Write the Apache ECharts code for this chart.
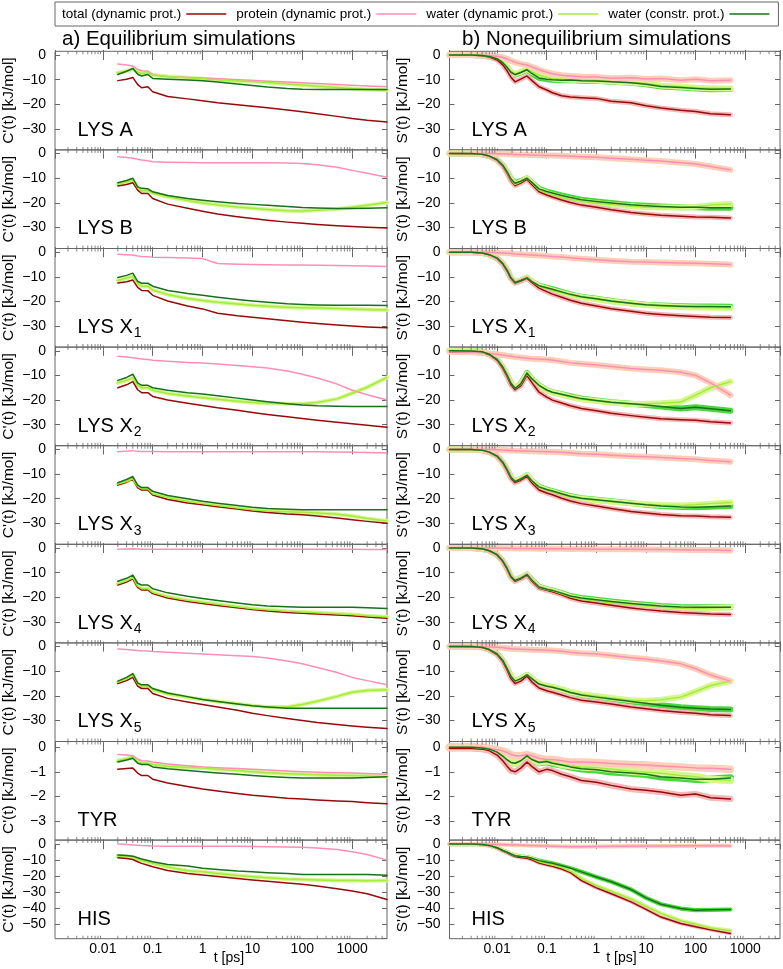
<!DOCTYPE html>
<html><head><meta charset="utf-8">
<script src="https://cdn.jsdelivr.net/npm/echarts@6/dist/echarts.min.js"></script>
<style>html,body{margin:0;padding:0;background:#fff}#c{width:783px;height:969px}</style>
</head><body><div id="c"></div>
<script>
const FONT = '"Liberation Sans", Arial, Helvetica, sans-serif';
const legendNames = ['total (dynamic prot.)','protein (dynamic prot.)','water (dynamic prot.)','water (constr. prot.)'];
const xTickLabels = ['0.01','0.1','1','10','100','1000'];
const panelLabels = ['LYS A','LYS B','LYS X','LYS X','LYS X','LYS X','LYS X','TYR','HIS'];
const panelSubs = ['','','1','2','3','4','5','',''];
const yMinRows = [-38.5,-38.5,-38.5,-38.5,-38.5,-38.5,-38.5,-3.77,-59];
const yMaxRows = [1.5,1.5,1.5,1.5,1.5,1.5,1.5,0.23,2.5];

// equilibrium time grid (ps) and nonequilibrium time grid (ps)
const eqTime = [0.02,0.03,0.04,0.05,0.06,0.08,0.1,0.2,0.5,1,2,5,10,20,50,100,200,500,1000,2000,5000];
const neqTime = [0.0011,0.003,0.005,0.007,0.01,0.013,0.016,0.019,0.023,0.03,0.04,0.05,0.07,0.1,0.13,0.2,0.3,0.5,1,2,5,10,20,50,100,200,500];

// ---------- a) Equilibrium: C'(t) ----------
const eqTotalLysA   = [-10.4,-9.8,-9.1,-12.0,-13.3,-12.9,-14.9,-16.8,-17.8,-18.6,-19.4,-20.2,-20.8,-21.4,-22.3,-23.0,-23.8,-24.9,-25.8,-26.5,-27.2];
const eqProteinLysA = [-3.7,-4.1,-4.5,-5.8,-6.4,-6.5,-8.0,-8.8,-9.1,-9.3,-9.6,-10.0,-10.3,-10.6,-11.0,-11.3,-11.6,-12.0,-12.3,-12.6,-12.9];
const eqWaterDynLysA= [-7.2,-6.5,-5.8,-6.9,-7.4,-7.3,-8.1,-8.7,-9.2,-9.6,-10.0,-10.5,-10.8,-11.2,-11.8,-12.2,-12.7,-13.2,-13.6,-14.0,-14.3];
const eqWaterConLysA= [-7.9,-6.6,-5.4,-7.8,-8.5,-7.9,-9.5,-9.8,-10.1,-10.4,-11.0,-11.8,-12.4,-13.0,-13.6,-13.9,-14.0,-14.0,-14.0,-14.0,-14.0];

const eqTotalLysB   = [-13.1,-12.5,-11.8,-14.8,-16.2,-16.2,-18.2,-20.5,-22.2,-23.4,-24.5,-25.6,-26.3,-27.0,-27.8,-28.3,-28.8,-29.3,-29.6,-29.9,-30.2];
const eqProteinLysB = [-1.3,-1.6,-1.9,-2.3,-2.6,-2.9,-3.3,-3.5,-3.6,-3.7,-3.7,-3.7,-3.7,-3.7,-3.8,-4.0,-4.5,-5.5,-6.8,-8.0,-9.6];
const eqWaterDynLysB= [-12.3,-11.5,-10.7,-13.8,-15.2,-15.0,-16.0,-17.5,-19.0,-20.0,-20.8,-21.7,-22.2,-22.7,-23.2,-23.3,-23.0,-22.5,-21.8,-21.0,-19.8];
const eqWaterConLysB= [-11.8,-10.9,-10.0,-13.5,-14.1,-14.3,-15.5,-17.0,-18.2,-18.9,-19.5,-20.2,-20.6,-21.0,-21.5,-21.9,-22.1,-22.3,-22.3,-22.2,-22.0];

const eqTotalLysX1   = [-12.5,-12.0,-11.3,-14.3,-15.5,-15.6,-17.5,-19.8,-21.8,-23.0,-24.8,-25.8,-26.4,-27.0,-27.8,-28.4,-28.9,-29.5,-29.9,-30.3,-30.7];
const eqProteinLysX1 = [-0.8,-1.0,-1.1,-1.5,-1.7,-1.8,-2.0,-2.2,-2.4,-2.6,-4.6,-4.9,-5.0,-5.1,-5.2,-5.2,-5.3,-5.4,-5.5,-5.6,-5.8];
const eqWaterDynLysX1= [-11.5,-10.5,-9.8,-12.8,-13.8,-13.8,-15.3,-17.2,-18.8,-19.6,-20.3,-21.0,-21.5,-21.9,-22.3,-22.5,-22.6,-22.8,-23.0,-23.2,-23.4];
const eqWaterConLysX1= [-10.3,-9.4,-8.5,-11.8,-12.6,-12.6,-13.8,-15.5,-16.8,-17.5,-18.3,-19.2,-19.8,-20.3,-20.9,-21.2,-21.4,-21.5,-21.5,-21.5,-21.6];

const eqTotalLysX2   = [-15.0,-13.8,-12.5,-15.8,-17.0,-17.0,-18.5,-20.0,-21.3,-22.2,-23.1,-24.1,-25.0,-25.8,-26.8,-27.5,-28.2,-29.0,-29.6,-30.2,-31.0];
const eqProteinLysX2 = [-2.2,-2.5,-2.8,-3.1,-3.3,-3.5,-3.8,-4.2,-4.7,-5.0,-5.4,-6.0,-6.5,-7.0,-8.2,-9.5,-11.0,-13.5,-16.0,-17.8,-20.0];
const eqWaterDynLysX2= [-13.0,-12.0,-11.0,-14.0,-15.0,-15.0,-16.0,-17.3,-18.3,-19.0,-19.7,-20.5,-21.0,-21.3,-21.5,-21.5,-21.0,-19.5,-17.2,-14.8,-10.8];
const eqWaterConLysX2= [-12.0,-10.8,-9.5,-13.0,-14.0,-14.0,-15.0,-16.0,-17.0,-17.5,-18.2,-19.2,-20.0,-20.7,-21.5,-22.0,-22.3,-22.5,-22.6,-22.6,-22.6];

const eqTotalLysX3   = [-14.5,-13.3,-12.0,-15.5,-16.5,-16.5,-18.5,-20.3,-21.7,-22.5,-23.3,-24.2,-25.0,-25.6,-26.2,-26.5,-27.0,-27.8,-28.5,-29.2,-30.0];
const eqProteinLysX3 = [-1.0,-0.7,-0.5,-0.8,-0.9,-0.9,-0.9,-1.0,-1.0,-1.0,-1.0,-1.0,-1.0,-1.0,-1.0,-1.0,-1.0,-1.1,-1.2,-1.3,-1.5];
const eqWaterDynLysX3= [-14.0,-13.0,-12.0,-15.0,-16.0,-16.0,-18.0,-19.5,-21.0,-22.0,-22.8,-23.8,-24.5,-25.0,-25.3,-25.5,-25.8,-26.3,-27.0,-28.0,-29.0];
const eqWaterConLysX3= [-13.5,-12.2,-11.0,-14.5,-15.5,-15.5,-17.0,-18.7,-20.0,-21.0,-21.8,-22.8,-23.5,-24.0,-24.3,-24.5,-24.5,-24.5,-24.5,-24.5,-24.5];

const eqTotalLysX4   = [-15.0,-13.8,-12.5,-16.0,-17.0,-17.0,-18.5,-20.3,-21.7,-22.5,-23.3,-24.2,-25.0,-25.6,-26.2,-26.5,-26.8,-27.2,-27.5,-28.0,-28.5];
const eqProteinLysX4 = [-0.5,-0.4,-0.3,-0.4,-0.5,-0.5,-0.5,-0.5,-0.5,-0.5,-0.5,-0.5,-0.5,-0.5,-0.5,-0.5,-0.5,-0.5,-0.5,-0.6,-0.6];
const eqWaterDynLysX4= [-14.5,-13.3,-12.0,-15.5,-16.5,-16.5,-18.0,-19.8,-21.2,-22.0,-22.8,-23.8,-24.5,-25.1,-25.7,-26.0,-26.3,-26.7,-27.0,-27.5,-28.0];
const eqWaterConLysX4= [-13.5,-12.3,-11.0,-14.3,-15.0,-15.0,-16.5,-18.2,-19.6,-20.5,-21.3,-22.3,-23.0,-23.5,-23.8,-24.0,-24.0,-24.0,-24.0,-24.2,-24.5];

const eqTotalLysX5   = [-15.0,-13.8,-12.5,-16.0,-17.0,-17.0,-19.0,-21.0,-22.5,-23.5,-24.5,-25.8,-27.0,-28.0,-29.2,-30.0,-30.8,-31.6,-32.2,-32.7,-33.2];
const eqProteinLysX5 = [-1.0,-1.2,-1.4,-1.6,-1.7,-1.8,-2.0,-2.3,-2.7,-3.0,-3.3,-3.7,-4.0,-4.6,-5.8,-7.0,-8.5,-10.5,-12.5,-13.8,-15.5];
const eqWaterDynLysX5= [-14.5,-13.0,-11.5,-15.0,-16.0,-16.0,-17.5,-19.2,-20.6,-21.5,-22.3,-23.2,-24.0,-24.5,-24.5,-23.5,-22.2,-20.2,-18.5,-17.8,-17.5];
const eqWaterConLysX5= [-14.0,-12.5,-11.0,-14.7,-15.5,-15.5,-17.0,-18.8,-20.3,-21.5,-22.3,-23.3,-24.0,-24.5,-25.0,-25.0,-25.0,-25.0,-25.0,-25.0,-25.0];

const eqTotalTyr   = [-0.9,-0.87,-0.85,-1.05,-1.15,-1.15,-1.3,-1.45,-1.6,-1.7,-1.78,-1.88,-1.95,-2.0,-2.07,-2.1,-2.14,-2.18,-2.2,-2.25,-2.3];
const eqProteinTyr = [-0.3,-0.32,-0.35,-0.48,-0.55,-0.56,-0.6,-0.68,-0.75,-0.8,-0.83,-0.87,-0.9,-0.93,-0.97,-1.0,-1.02,-1.04,-1.05,-1.07,-1.1];
const eqWaterDynTyr= [-0.55,-0.47,-0.4,-0.58,-0.65,-0.65,-0.7,-0.77,-0.82,-0.85,-0.9,-0.95,-1.0,-1.04,-1.08,-1.1,-1.12,-1.14,-1.15,-1.17,-1.2];
const eqWaterConTyr= [-0.6,-0.52,-0.45,-0.65,-0.7,-0.7,-0.8,-0.88,-0.95,-1.0,-1.05,-1.1,-1.15,-1.19,-1.23,-1.25,-1.25,-1.25,-1.25,-1.23,-1.2];

const eqTotalHis   = [-8.5,-9.0,-9.6,-11.0,-12.0,-13.2,-14.1,-16.5,-18.3,-19.3,-20.2,-21.5,-22.4,-23.2,-24.3,-25.1,-26.2,-27.8,-29.3,-31.0,-34.5];
const eqProteinHis = [0.0,-0.3,-0.5,-0.7,-0.9,-1.0,-1.2,-1.3,-1.3,-1.3,-1.3,-1.4,-1.5,-1.6,-1.8,-2.0,-2.4,-3.4,-4.7,-6.5,-10.0];
const eqWaterDynHis= [-7.4,-7.7,-8.0,-9.3,-10.2,-11.2,-12.0,-14.3,-16.6,-17.3,-18.3,-19.6,-20.4,-21.0,-21.7,-22.0,-22.4,-22.7,-22.7,-22.8,-22.7];
const eqWaterConHis= [-6.8,-7.1,-7.5,-8.5,-9.3,-10.2,-11.0,-12.7,-13.7,-15.0,-15.8,-16.8,-17.3,-17.8,-18.4,-18.9,-19.0,-19.0,-18.9,-19.0,-19.5];

// ---------- b) Nonequilibrium: S'(t) ----------
const neqTotalLysA   = [0,-0.05,-0.3,-0.8,-2.0,-4.0,-6.5,-9.0,-10.9,-9.8,-8.5,-10.3,-12.9,-14.2,-15.3,-16.5,-17.0,-17.3,-17.6,-18.8,-19.4,-20.6,-21.5,-22.4,-22.9,-23.8,-24.2];
const neqProteinLysA = [0,0,-0.1,-0.2,-0.5,-1.0,-1.6,-2.3,-3.0,-3.6,-4.1,-4.8,-6.0,-7.0,-7.6,-8.2,-8.5,-8.8,-8.9,-9.4,-9.2,-9.7,-9.5,-10.2,-9.8,-10.4,-10.2];
const neqWaterDynLysA= [0,0,-0.2,-0.6,-1.5,-3.0,-4.9,-6.7,-7.7,-6.8,-5.7,-6.8,-8.2,-9.0,-9.5,-9.8,-10.0,-10.1,-10.3,-10.8,-11.2,-11.6,-12.4,-12.9,-13.3,-13.5,-13.6];
const neqWaterConLysA= [0,0,-0.2,-0.6,-1.5,-3.1,-5.1,-7.0,-8.0,-7.1,-6.0,-7.5,-9.3,-9.8,-10.0,-10.2,-10.1,-10.4,-10.5,-10.9,-11.3,-11.9,-12.8,-13.2,-13.6,-13.9,-13.8];

const neqTotalLysB   = [0,-0.05,-0.3,-1.0,-2.6,-5.0,-8.0,-11.0,-13.0,-12.0,-10.5,-12.5,-15.5,-16.8,-17.6,-18.8,-19.8,-20.9,-21.8,-22.8,-23.9,-24.5,-25.0,-25.4,-25.7,-25.8,-26.1];
const neqProteinLysB = [0,0,0,0,-0.1,-0.1,-0.2,-0.3,-0.4,-0.5,-0.5,-0.6,-0.7,-0.8,-0.8,-0.9,-1.1,-1.3,-1.5,-1.9,-2.3,-2.7,-3.0,-3.7,-4.2,-5.2,-6.6];
const neqWaterDynLysB= [0,0,-0.3,-1.0,-2.5,-4.8,-7.7,-10.6,-12.5,-11.5,-10.0,-11.9,-14.8,-16.0,-16.7,-17.8,-18.6,-19.4,-20.1,-20.7,-21.4,-21.8,-21.9,-21.9,-21.6,-20.9,-20.4];
const neqWaterConLysB= [0,0,-0.3,-1.0,-2.5,-4.7,-7.5,-10.3,-12.0,-11.2,-10.0,-11.7,-14.3,-15.4,-16.0,-17.0,-17.8,-18.7,-19.4,-20.0,-20.8,-21.2,-21.5,-21.8,-21.8,-22.0,-22.0];

const neqTotalLysX1   = [0,-0.05,-0.3,-1.0,-2.5,-4.8,-7.7,-10.7,-12.5,-11.7,-10.5,-12.3,-14.6,-16.0,-17.0,-18.3,-19.5,-20.7,-21.8,-22.9,-24.0,-24.8,-25.3,-25.8,-26.1,-26.4,-26.5];
const neqProteinLysX1 = [0,0,0,-0.1,-0.2,-0.3,-0.4,-0.5,-0.7,-0.8,-1.0,-1.1,-1.3,-1.5,-1.7,-1.9,-2.3,-2.7,-3.1,-3.5,-3.9,-4.0,-4.2,-4.4,-4.5,-4.7,-5.0];
const neqWaterDynLysX1= [0,0,-0.3,-1.0,-2.4,-4.6,-7.4,-10.4,-12.3,-11.5,-10.2,-11.8,-13.8,-14.8,-15.5,-16.5,-17.4,-18.3,-19.1,-20.0,-20.8,-21.4,-21.8,-22.2,-22.4,-22.5,-22.6];
const neqWaterConLysX1= [0,0,-0.3,-1.0,-2.4,-4.6,-7.4,-10.4,-12.3,-11.5,-10.4,-11.9,-13.6,-14.4,-15.0,-16.1,-17.1,-18.1,-18.9,-19.8,-20.7,-21.3,-21.6,-21.9,-22.0,-22.0,-22.1];

const neqTotalLysX2   = [-0.4,-0.4,-0.6,-1.6,-3.8,-7.0,-10.5,-13.8,-15.8,-14.2,-10.0,-12.8,-16.8,-18.8,-20.0,-21.2,-22.3,-23.4,-24.3,-25.3,-26.3,-27.0,-27.6,-28.0,-28.2,-28.8,-29.3];
const neqProteinLysX2 = [-0.4,-0.6,-0.9,-1.1,-1.4,-1.7,-2.0,-2.2,-2.5,-2.7,-3.0,-3.2,-3.3,-3.5,-3.7,-4.3,-4.9,-5.3,-5.8,-6.4,-7.2,-7.6,-7.9,-8.7,-10.0,-13.0,-18.0];
const neqWaterDynLysX2= [0,-0.1,-0.4,-1.4,-3.5,-6.6,-10.0,-13.2,-15.2,-13.6,-9.4,-11.5,-14.2,-16.0,-16.9,-17.8,-18.8,-19.7,-20.4,-21.1,-21.6,-21.5,-21.3,-20.8,-18.0,-15.0,-12.5];
const neqWaterConLysX2= [0,-0.1,-0.4,-1.4,-3.5,-6.6,-10.0,-13.2,-15.2,-13.4,-9.0,-11.3,-14.0,-15.9,-16.8,-17.6,-18.4,-19.4,-20.2,-20.9,-21.5,-22.0,-22.6,-23.4,-22.9,-23.5,-24.3];

const neqTotalLysX3   = [0,-0.05,-0.3,-1.1,-2.8,-5.4,-8.6,-11.8,-13.5,-12.5,-11.0,-13.5,-16.5,-17.7,-18.4,-19.8,-20.9,-22.0,-23.0,-24.0,-25.2,-25.8,-26.4,-26.9,-27.0,-27.3,-27.5];
const neqProteinLysX3 = [0,0,0,0,-0.1,-0.2,-0.3,-0.4,-0.5,-0.6,-0.7,-0.8,-0.9,-1.0,-1.0,-1.2,-1.5,-1.8,-2.0,-2.4,-2.8,-3.0,-3.3,-3.7,-4.0,-4.5,-5.0];
const neqWaterDynLysX3= [0,0,-0.3,-1.1,-2.7,-5.2,-8.3,-11.4,-13.0,-12.0,-10.5,-12.8,-15.5,-16.6,-17.2,-18.4,-19.3,-20.0,-20.6,-21.2,-21.9,-22.3,-22.6,-22.8,-22.5,-22.0,-21.5];
const neqWaterConLysX3= [0,0,-0.3,-1.1,-2.7,-5.2,-8.3,-11.3,-13.0,-12.0,-10.5,-12.7,-15.2,-16.3,-16.9,-18.0,-19.0,-19.8,-20.4,-21.0,-21.8,-22.5,-23.0,-23.4,-23.5,-23.3,-23.0];

const neqTotalLysX4   = [0,-0.05,-0.3,-1.1,-2.8,-5.4,-8.6,-11.8,-13.5,-12.5,-11.0,-13.5,-16.3,-17.2,-17.8,-19.0,-20.4,-21.5,-22.3,-23.2,-24.3,-25.0,-25.6,-26.2,-26.5,-26.8,-27.0];
const neqProteinLysX4 = [0,0,0,0,0,-0.1,-0.1,-0.1,-0.2,-0.2,-0.2,-0.2,-0.3,-0.3,-0.3,-0.3,-0.4,-0.4,-0.5,-0.5,-0.5,-0.6,-0.6,-0.7,-0.8,-0.8,-1.0];
const neqWaterDynLysX4= [0,0,-0.3,-1.1,-2.7,-5.3,-8.4,-11.6,-13.2,-12.2,-10.8,-13.2,-16.0,-16.9,-17.4,-18.6,-19.8,-20.8,-21.5,-22.2,-23.0,-23.5,-24.0,-24.4,-24.5,-24.3,-24.0];
const neqWaterConLysX4= [0,0,-0.3,-1.1,-2.7,-5.3,-8.4,-11.6,-13.2,-12.2,-10.8,-13.0,-15.8,-16.7,-17.2,-18.3,-19.5,-20.3,-21.0,-21.7,-22.5,-23.0,-23.5,-23.9,-24.0,-24.0,-24.0];

const neqTotalLysX5   = [0,-0.05,-0.4,-1.3,-3.2,-6.0,-9.6,-13.0,-15.0,-14.0,-12.0,-14.3,-16.8,-17.9,-18.5,-19.6,-20.7,-21.8,-22.5,-23.3,-24.5,-25.2,-25.9,-26.6,-27.0,-27.6,-28.0];
const neqProteinLysX5 = [0,0,-0.1,-0.2,-0.3,-0.5,-0.7,-0.9,-1.0,-1.1,-1.2,-1.3,-1.4,-1.5,-1.6,-1.9,-2.3,-2.7,-3.0,-3.6,-4.5,-5.0,-5.8,-7.0,-9.0,-11.5,-14.0];
const neqWaterDynLysX5= [0,0,-0.3,-1.2,-3.0,-5.6,-9.0,-12.1,-14.0,-13.0,-11.5,-13.0,-15.0,-15.9,-16.3,-17.3,-18.4,-19.3,-20.0,-20.8,-21.8,-22.0,-21.6,-20.5,-18.2,-15.8,-14.0];
const neqWaterConLysX5= [0,0,-0.3,-1.2,-3.0,-5.6,-9.0,-12.1,-14.0,-13.0,-11.5,-13.0,-15.2,-16.1,-16.5,-17.5,-18.6,-19.6,-20.5,-21.3,-22.3,-23.0,-23.8,-24.6,-25.0,-25.3,-25.5];

const neqTotalTyr   = [-0.05,-0.05,-0.08,-0.15,-0.32,-0.55,-0.78,-0.95,-1.0,-0.85,-0.6,-0.78,-1.0,-0.9,-0.95,-1.1,-1.2,-1.35,-1.42,-1.55,-1.7,-1.75,-1.82,-1.95,-1.9,-2.05,-2.1];
const neqProteinTyr = [0,0,0,-0.05,-0.1,-0.15,-0.22,-0.3,-0.35,-0.35,-0.3,-0.35,-0.45,-0.5,-0.5,-0.55,-0.6,-0.6,-0.62,-0.66,-0.7,-0.72,-0.76,-0.8,-0.84,-0.86,-0.9];
const neqWaterDynTyr= [0,0,-0.03,-0.08,-0.2,-0.36,-0.52,-0.62,-0.65,-0.55,-0.35,-0.48,-0.6,-0.55,-0.6,-0.7,-0.75,-0.8,-0.83,-0.9,-0.98,-1.02,-1.06,-1.15,-1.2,-1.3,-1.35];
const neqWaterConTyr= [0,0,-0.03,-0.08,-0.2,-0.36,-0.52,-0.62,-0.65,-0.55,-0.35,-0.5,-0.62,-0.58,-0.65,-0.72,-0.8,-0.88,-0.92,-1.0,-1.05,-1.1,-1.2,-1.25,-1.3,-1.3,-1.25];

const neqTotalHis   = [0,0,-0.2,-0.8,-2.4,-4.2,-5.5,-6.7,-7.8,-8.4,-8.9,-9.8,-11.8,-13.0,-13.8,-15.5,-17.8,-22.8,-27.3,-31.0,-36.0,-40.7,-45.5,-49.5,-51.6,-53.5,-55.8];
const neqProteinHis = [0,0,0,-0.1,-0.2,-0.3,-0.4,-0.5,-0.6,-0.7,-0.8,-0.9,-1.0,-1.2,-1.3,-1.5,-1.6,-1.6,-1.5,-1.4,-1.3,-1.2,-1.2,-1.1,-1.1,-1.0,-1.0];
const neqWaterDynHis= [0,0,-0.2,-0.8,-2.3,-4.0,-5.2,-6.3,-7.3,-7.8,-8.2,-9.0,-11.0,-12.2,-13.0,-14.6,-16.9,-21.5,-26.0,-29.6,-34.2,-38.8,-43.2,-47.8,-50.0,-52.3,-54.0];
const neqWaterConHis= [0,0,-0.2,-0.8,-2.3,-4.0,-5.1,-6.2,-7.2,-7.7,-8.1,-8.8,-10.3,-11.3,-12.0,-13.5,-15.0,-17.3,-20.5,-23.5,-28.3,-33.5,-37.5,-40.2,-41.2,-41.0,-40.8];

// tables built from the named arrays
const eqData = [
  [eqTotalLysA, eqProteinLysA, eqWaterDynLysA, eqWaterConLysA],
  [eqTotalLysB, eqProteinLysB, eqWaterDynLysB, eqWaterConLysB],
  [eqTotalLysX1, eqProteinLysX1, eqWaterDynLysX1, eqWaterConLysX1],
  [eqTotalLysX2, eqProteinLysX2, eqWaterDynLysX2, eqWaterConLysX2],
  [eqTotalLysX3, eqProteinLysX3, eqWaterDynLysX3, eqWaterConLysX3],
  [eqTotalLysX4, eqProteinLysX4, eqWaterDynLysX4, eqWaterConLysX4],
  [eqTotalLysX5, eqProteinLysX5, eqWaterDynLysX5, eqWaterConLysX5],
  [eqTotalTyr, eqProteinTyr, eqWaterDynTyr, eqWaterConTyr],
  [eqTotalHis, eqProteinHis, eqWaterDynHis, eqWaterConHis]
];
const neqData = [
  [neqTotalLysA, neqProteinLysA, neqWaterDynLysA, neqWaterConLysA],
  [neqTotalLysB, neqProteinLysB, neqWaterDynLysB, neqWaterConLysB],
  [neqTotalLysX1, neqProteinLysX1, neqWaterDynLysX1, neqWaterConLysX1],
  [neqTotalLysX2, neqProteinLysX2, neqWaterDynLysX2, neqWaterConLysX2],
  [neqTotalLysX3, neqProteinLysX3, neqWaterDynLysX3, neqWaterConLysX3],
  [neqTotalLysX4, neqProteinLysX4, neqWaterDynLysX4, neqWaterConLysX4],
  [neqTotalLysX5, neqProteinLysX5, neqWaterDynLysX5, neqWaterConLysX5],
  [neqTotalTyr, neqProteinTyr, neqWaterDynTyr, neqWaterConTyr],
  [neqTotalHis, neqProteinHis, neqWaterDynHis, neqWaterConHis]
];

// ---------- styling / layout ----------
const lineColors = ['#960a0a', '#ff8fb2', '#a4ec3c', '#17701b'];
const bandColors = ['#f6b9b9', '#ffcfb9', '#d6f790', '#48d83c'];
const AXIS_COLOR = '#666';
const X_MIN = 0.0011, X_MAX = 5000;
const ROW_TOP0 = 51.3, ROW_H = 98.6;
const COL_LEFT = [55, 449.5], COL_W = [332, 330.5];
const minorMult = [2,3,4,5,6,7,8,9];
const decadeStarts = [0.001,0.01,0.1,1,10,100,1000];

const minorTicks = [];
decadeStarts.forEach(d => minorMult.forEach(m => { const t = +(m*d).toPrecision(6); if (t > X_MIN && t < X_MAX) minorTicks.push(t); }));

const grids = [], xAxes = [], yAxes = [], series = [], graphics = [];

function xLabel(v) {
  const lg = Math.log10(v); const k = Math.round(lg);
  if (Math.abs(lg - k) > 1e-6) return '';
  const idx = k + 2;
  return (idx >= 0 && idx < xTickLabels.length) ? xTickLabels[idx] : '';
}
function yLabel(v) {
  if (Math.abs(v) < 1e-9) return '0';
  return v < 0 ? '\u2212' + Math.abs(v) : String(v);
}
function addLine(name, time, vals, color, width, gi, z) {
  series.push({
    type: 'line', name, xAxisIndex: 2*gi, yAxisIndex: 2*gi,
    data: time.map((t, i) => [t, vals[i]]),
    symbol: 'none', showSymbol: false, smooth: false,
    lineStyle: { color, width, cap: 'round', join: 'round' }, itemStyle: { color },
    z, silent: true, animation: false, emphasis: { disabled: true }
  });
}

for (let r = 0; r < 9; r++) {
  for (let c = 0; c < 2; c++) {
    const gi = r*2 + c;
    const top = ROW_TOP0 + r*ROW_H;
    grids.push({ left: COL_LEFT[c], top: top, width: COL_W[c], height: ROW_H,
      show: true, borderColor: AXIS_COLOR, borderWidth: 1, backgroundColor: 'transparent',
      containLabel: false, outerBoundsMode: 'none' });
    const isBottom = r === 8;
    xAxes.push({ type: 'log', gridIndex: gi, position: 'bottom', min: X_MIN, max: X_MAX, logBase: 10,
      axisLine: { show: false }, splitLine: { show: false },
      axisTick: { show: true, inside: true, length: 5, lineStyle: { color: AXIS_COLOR } },
      axisLabel: { show: isBottom, interval: 0, margin: 3, formatter: xLabel, color: '#000', fontSize: 14, fontFamily: FONT,
        showMinLabel: false, showMaxLabel: false }
    });
    xAxes.push({ type: 'log', gridIndex: gi, position: 'top', min: X_MIN, max: X_MAX, logBase: 10,
      axisLine: { show: false }, splitLine: { show: false },
      axisTick: { show: true, inside: true, length: 5, lineStyle: { color: AXIS_COLOR } },
      axisLabel: { show: false }
    });
    yAxes.push({ type: 'value', gridIndex: gi, position: 'left', min: yMinRows[r], max: yMaxRows[r],
      axisLine: { show: false }, splitLine: { show: false },
      axisTick: { show: true, inside: true, length: 5, lineStyle: { color: AXIS_COLOR } },
      axisLabel: { show: true, margin: 9, formatter: yLabel, color: '#000', fontSize: 14, fontFamily: FONT,
        showMinLabel: false, showMaxLabel: false }
    });
    yAxes.push({ type: 'value', gridIndex: gi, position: 'right', min: yMinRows[r], max: yMaxRows[r],
      axisLine: { show: false }, splitLine: { show: false },
      axisTick: { show: true, inside: true, length: 5, lineStyle: { color: AXIS_COLOR } },
      axisLabel: { show: false }
    });

    const time = c === 0 ? eqTime : neqTime;
    const data = c === 0 ? eqData[r] : neqData[r];
    // uncertainty-like halos
    if (c === 0) {
      addLine('band', time, data[2], bandColors[2], 4, gi, 1);
    } else {
      const k = r === 7 ? 1.25 : (r === 8 ? 0.7 : 1);
      addLine('band', time, data[3], bandColors[3], 6*k, gi, 1);
      addLine('band', time, data[2], bandColors[2], 6*k, gi, 1);
      addLine('band', time, data[0], bandColors[0], 5*k, gi, 1);
      addLine('band', time, data[1], bandColors[1], 6*k, gi, 1);
    }
    for (let s = 0; s < 4; s++) addLine(legendNames[s], time, data[s], lineColors[s], 1.5, gi, 3);

    // minor log ticks on top and bottom frame edges
    series.push({ type: 'scatter', name: 'minorTop', xAxisIndex: 2*gi, yAxisIndex: 2*gi, clip: false, silent: true,
      data: minorTicks.map(t => [t, yMaxRows[r]]), symbol: 'rect', symbolSize: [1, 3], symbolOffset: [0, 1.5],
      itemStyle: { color: AXIS_COLOR }, z: 4, animation: false, emphasis: { disabled: true } });
    series.push({ type: 'scatter', name: 'minorBottom', xAxisIndex: 2*gi, yAxisIndex: 2*gi, clip: false, silent: true,
      data: minorTicks.map(t => [t, yMinRows[r]]), symbol: 'rect', symbolSize: [1, 3], symbolOffset: [0, -1.5],
      itemStyle: { color: AXIS_COLOR }, z: 4, animation: false, emphasis: { disabled: true } });

    // y-axis name
    graphics.push({ type: 'text', x: c === 0 ? 8.5 : 403, y: top + ROW_H/2, rotation: Math.PI/2,
      style: { text: c === 0 ? "C'(t) [kJ/mol]" : "S'(t) [kJ/mol]", fontSize: 15.5, fontFamily: FONT, fill: '#000',
        align: 'center', verticalAlign: 'middle' } });
    // panel label
    const lbl = panelLabels[r] + (panelSubs[r] ? '{s|' + panelSubs[r] + '}' : '');
    graphics.push({ type: 'text', x: c === 0 ? 77.5 : 471.5, y: top + 79,
      style: { text: lbl, fontSize: 20, fontFamily: FONT, fill: '#000', align: 'left', verticalAlign: 'middle',
        rich: { s: { fontSize: 14, fontFamily: FONT, fill: '#000', padding: [12, 0, 0, 1] } } } });
  }
}

graphics.push({ type: 'text', x: 62, y: 39, style: { text: 'a) Equilibrium simulations', fontSize: 20.5, fontFamily: FONT, fill: '#000', align: 'left', verticalAlign: 'middle' } });
graphics.push({ type: 'text', x: 462, y: 39, style: { text: 'b) Nonequilibrium simulations', fontSize: 20.5, fontFamily: FONT, fill: '#000', align: 'left', verticalAlign: 'middle' } });
graphics.push({ type: 'text', x: 229, y: 958, style: { text: 't [ps]', fontSize: 14, fontFamily: FONT, fill: '#000', align: 'center', verticalAlign: 'middle' } });
graphics.push({ type: 'text', x: 621.5, y: 958, style: { text: 't [ps]', fontSize: 14, fontFamily: FONT, fill: '#000', align: 'center', verticalAlign: 'middle' } });

const chart = echarts.init(document.getElementById('c'), null, { renderer: 'canvas' });
chart.setOption({
  animation: false,
  backgroundColor: '#fff',
  textStyle: { fontFamily: FONT },
  legend: {
    data: legendNames, top: 2, left: 55, orient: 'horizontal', align: 'right',
    icon: 'rect', itemWidth: 40, itemHeight: 1.6, itemGap: 10, padding: [5, 9, 5, 7],
    borderColor: AXIS_COLOR, borderWidth: 1, selectedMode: false,
    textStyle: { fontFamily: FONT, fontSize: 13.5, color: '#000', lineHeight: 14 }
  },
  grid: grids, xAxis: xAxes, yAxis: yAxes, series: series, graphic: graphics
});
</script>
</body></html>
